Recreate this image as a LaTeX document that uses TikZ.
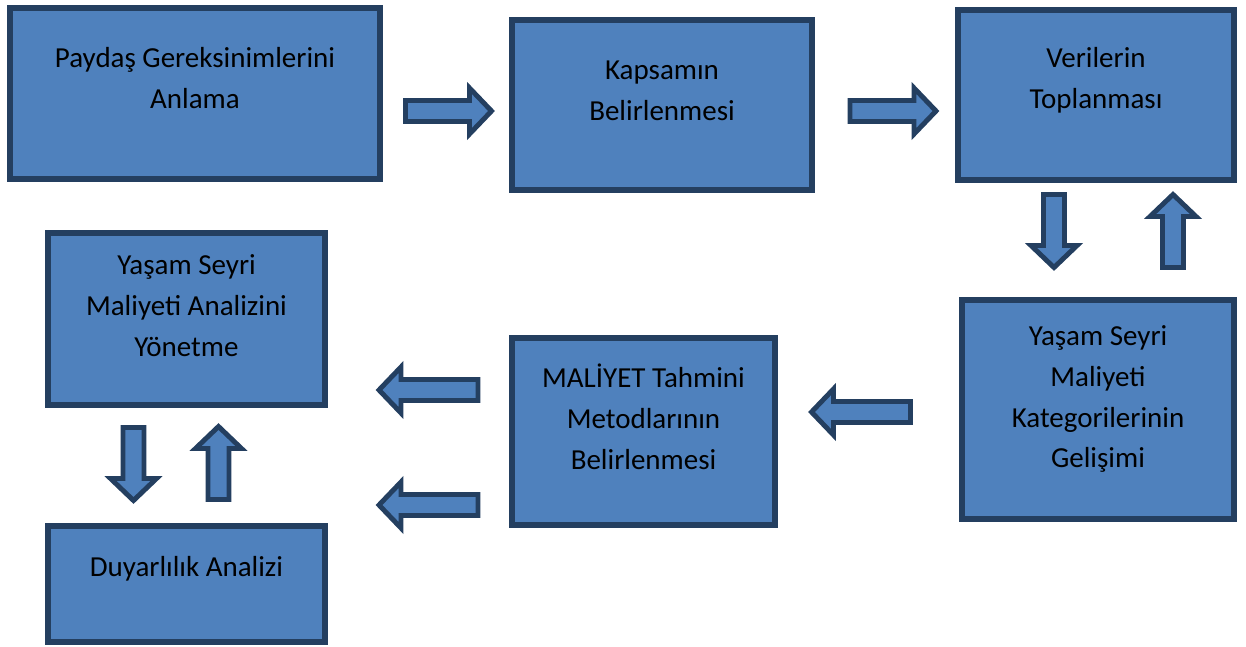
\documentclass[tikz,border=0pt]{standalone}
\usepackage{fontspec}
\setmainfont{Carlito}

\definecolor{kutumavi}{HTML}{4F81BD}
\definecolor{kenarmavi}{HTML}{243F60}

\tikzset{
    kutu/.style={draw=kenarmavi, fill=kutumavi, line width=3.1pt, inner sep=0pt},
    yazi/.style={align=center, inner sep=0pt, font=\fontsize{16.5}{23.3}\selectfont},
    blokok/.style={draw=kenarmavi, fill=kutumavi, line width=2.8pt}
}

% block arrow: center x, center y, angle, length
\newcommand{\okciz}[4]{%
    \begin{scope}[shift={(#1,#2)}, rotate=#3]
        \draw[blokok] ({-#4/2},-10.5) -- ({#4/2-22},-10.5) -- ({#4/2-22},-23) -- ({#4/2},0)
            -- ({#4/2-22},23) -- ({#4/2-22},10.5) -- ({-#4/2},10.5) -- cycle;
    \end{scope}}

\begin{document}
\begin{tikzpicture}[x=0.02cm, y=-0.02cm]
    \useasboundingbox (0,0) rectangle (1246,646);

    % boxes
    \node[kutu, minimum width=7.4cm, minimum height=3.42cm] (paydas) at (195,93.5) {};
    \node[kutu, minimum width=6cm, minimum height=3.4cm] (kapsam) at (662,105) {};
    \node[kutu, minimum width=5.52cm, minimum height=3.4cm] (veri) at (1096,95) {};
    \node[kutu, minimum width=5.44cm, minimum height=4.38cm] (kategori) at (1098,409.5) {};
    \node[kutu, minimum width=5.26cm, minimum height=3.74cm] (metod) at (643.5,431.5) {};
    \node[kutu, minimum width=5.54cm, minimum height=3.44cm] (yonetme) at (186.5,319) {};
    \node[kutu, minimum width=5.54cm, minimum height=2.32cm] (duyarlilik) at (186.5,584) {};

    % texts
    \node[yazi] (paydasyazi) at (195,78) {Paydaş Gereksinimlerini\\Anlama};
    \node[yazi] (kapsamyazi) at (662,90.5) {Kapsamın\\Belirlenmesi};
    \node[yazi] (veriyazi) at (1096,80) {Verilerin\\Toplanması};
    \node[yazi] (kategoriyazi) at (1098,399) {Yaşam Seyri\\Maliyeti\\Kategorilerinin\\Gelişimi};
    \node[yazi] (metodyazi) at (643.5,417) {MALİYET Tahmini\\Metodlarının\\Belirlenmesi};
    \node[yazi] (yonetmeyazi) at (186.5,306) {Yaşam Seyri\\Maliyeti Analizini\\Yönetme};
    \node[yazi] (duyarlilikyazi) at (186.5,569) {Duyarlılık Analizi};

    % arrows
    \okciz{448.5}{111}{0}{86}
    \okciz{893}{111}{0}{86}
    \okciz{1054}{231}{-90}{73}
    \okciz{1173}{231}{90}{73}
    \okciz{861}{412}{180}{99}
    \okciz{428.5}{390}{180}{99}
    \okciz{428.5}{505}{180}{99}
    \okciz{133.5}{464}{-90}{73}
    \okciz{218.5}{463}{90}{73}
\end{tikzpicture}
\end{document}
